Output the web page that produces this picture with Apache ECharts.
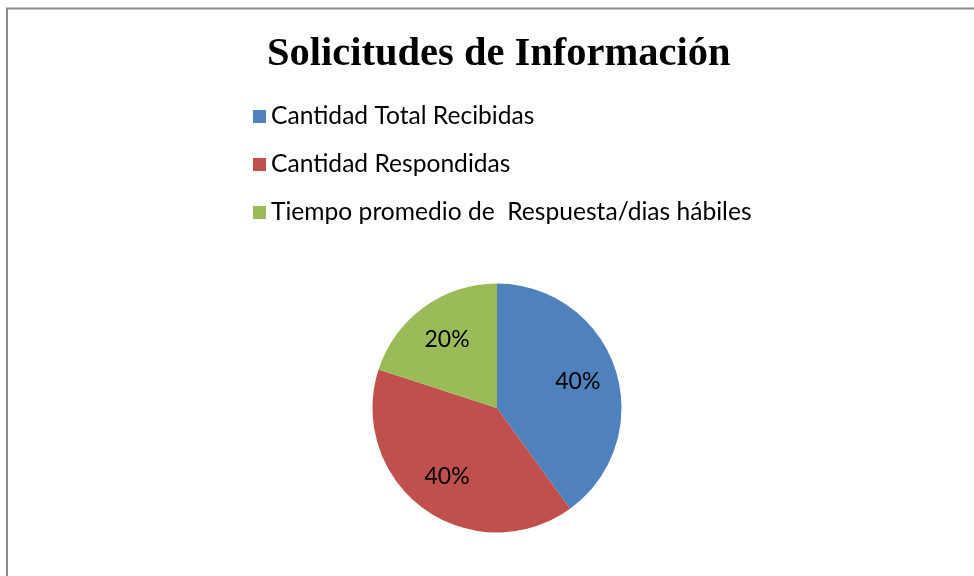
<!DOCTYPE html>
<html>
<head>
<meta charset="utf-8">
<script src="https://cdn.jsdelivr.net/npm/echarts@6/dist/echarts.min.js"></script>
<style>
html,body{margin:0;padding:0;background:#fff;}
#chart{width:974px;height:576px;}
</style>
</head>
<body>
<div id="chart"></div>
<script>
const titleText = 'Solicitudes de Información';
const categories = ['Cantidad Total Recibidas', 'Cantidad Respondidas', 'Tiempo promedio de  Respuesta/dias hábiles'];
const values = [2, 2, 1];
const colors = ['#4F81BD', '#C0504D', '#9BBB59'];

const chart = echarts.init(document.getElementById('chart'));
const data = categories.map((c, i) => ({ name: c, value: values[i], itemStyle: { color: colors[i] } }));
const labelData = categories.map((c, i) => ({ name: c, value: values[i] }));

chart.setOption({
  animation: false,
  backgroundColor: '#fff',
  graphic: [{
    type: 'rect',
    shape: { x: 7, y: 8.5, width: 1000, height: 600 },
    style: { fill: 'none', stroke: '#8c8c8c', lineWidth: 2 },
    silent: true
  }],
  title: {
    text: titleText,
    left: 262,
    top: 29,
    textStyle: { fontFamily: 'Liberation Serif', fontWeight: 'bold', fontSize: 40.5, color: '#000' }
  },
  legend: {
    orient: 'vertical',
    left: 248,
    top: 99,
    itemWidth: 13,
    itemHeight: 13,
    itemGap: 23,
    icon: 'rect',
    data: categories,
    textStyle: { fontFamily: 'Lato', fontSize: 24.6, lineHeight: 24, color: '#000', padding: [0, 0, 0, 0] }
  },
  series: [{
    type: 'pie',
    center: [497, 408],
    radius: [0, 124.5],
    startAngle: 90,
    clockwise: true,
    data: data,
    label: { show: false },
    labelLine: { show: false },
    silent: true
  }, {
    type: 'pie',
    center: [497, 408],
    radius: [0, 164],
    startAngle: 90,
    clockwise: true,
    data: labelData,
    itemStyle: { color: 'rgba(0,0,0,0)' },
    label: {
      show: true,
      position: 'inside',
      formatter: p => Math.round(p.percent) + '%',
      fontFamily: 'Lato',
      fontSize: 23,
      color: '#000'
    },
    labelLine: { show: false },
    silent: true,
    legendHoverLink: false
  }]
});
</script>
</body>
</html>
